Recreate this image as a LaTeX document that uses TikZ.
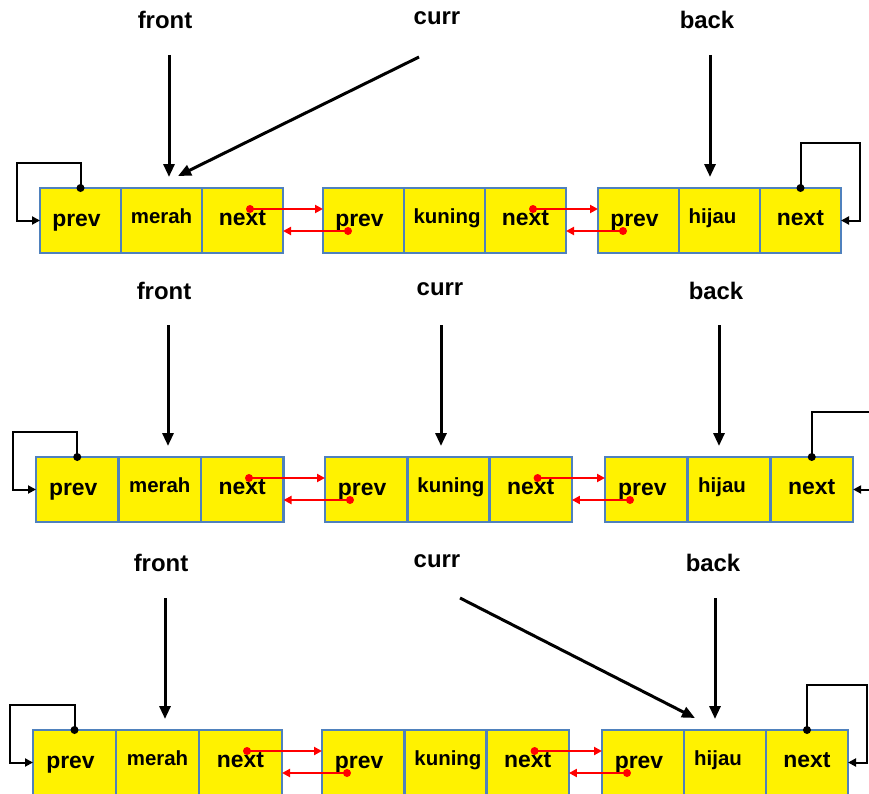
\documentclass[tikz,border=0pt]{standalone}
\usepackage{fontspec}
\setmainfont{Liberation Sans}
\usetikzlibrary{calc,arrows.meta}
\definecolor{cellblue}{RGB}{79,129,189}
\newcommand\valtext[1]{\raisebox{2.5bp}{\fontsize{20.5}{20.5}\selectfont #1}}
\newcommand\prevtext{\raisebox{-0.5bp}{prev}\kern8bp}
\newcommand\nexttext{\raisebox{0.5bp}{next}}
\newcommand\dllnode[6]{%
  \node[cell, minimum width=#4bp, anchor=north west] (#1p) at (#2,#3) {\prevtext};
  \node[cell, minimum width=#4bp, anchor=west] (#1v) at (#1p.east) {\valtext{#5}#6};
  \node[cell, minimum width=#4bp, anchor=west] (#1n) at (#1v.east) {\nexttext};
}
\newcommand\redlinks[2]{%
  \draw[redptr] ($(#1n.west)+(48,-11.5)$) coordinate (#1fw) -- (#1fw -| #2p.west);
  \fill[red] (#1fw) circle (4);
  \draw[redptr] ($(#2p.west)+(25,10.5)$) coordinate (#2bw) -- (#2bw -| #1n.east);
  \fill[red] (#2bw) circle (4);
}
\newcommand\leftloop[1]{%
  \draw[loopline] (#1p.north) -- ++(0,-25) -| ($(#1p.west)+(-23,0)$) -- (#1p.west);
  \fill (#1p.north) circle (4);
}
\newcommand\rightloop[1]{%
  \draw[loopline] (#1n.north) -- ++(0,-45) -| ($(#1n.east)+(19,0)$) -- (#1n.east);
  \fill (#1n.north) circle (4);
}
\begin{document}
\begin{tikzpicture}[x=1bp,y=-1bp,
  cell/.style={draw=cellblue, fill=yellow, line width=2.5bp, minimum height=65bp,
    text height=20bp, text depth=10bp,
    inner sep=0pt, outer sep=0pt, font=\bfseries\fontsize{23}{23}\selectfont},
  lbl/.style={inner sep=0pt, font=\bfseries\fontsize{24}{24}\selectfont},
  ptr/.style={line width=3bp, -{Triangle[length=13bp,width=11bp]}},
  loopline/.style={line width=2bp, -{Triangle[length=8bp,width=8bp]}},
  redptr/.style={red, line width=2.2bp, -{Triangle[length=8bp,width=8bp]}}]
\useasboundingbox (0,0) rectangle (869,794);

% Row 1
\dllnode{a}{40}{188}{81}{merah}{}
\dllnode{b}{323}{188}{81}{kuning}{\kern-5bp}
\dllnode{c}{598}{188}{81}{hijau}{\kern14bp}
\redlinks{a}{b}
\redlinks{b}{c}
\leftloop{a}
\rightloop{c}
\node[lbl] (f1) at (165,20) {front};
\node[lbl] (c1) at (437,18) {curr};
\node[lbl] (k1) at (707,20) {back};
\draw[ptr] ($(f1)+(4,35)$) -- ($(f1)+(4,157)$);
\draw[ptr] ($(c1)+(-18,39)$) -- ($(av.north)+(16.5,-12)$);
\draw[ptr] ($(k1)+(3,35)$) -- ($(k1)+(3,157)$);

% Row 2
\dllnode{d}{36}{457}{82.5}{merah}{}
\dllnode{e}{325}{457}{82.3}{kuning}{\kern-5bp}
\dllnode{f}{605}{457}{82.7}{hijau}{\kern14bp}
\redlinks{d}{e}
\redlinks{e}{f}
\leftloop{d}
\rightloop{f}
\node[lbl] (f2) at (164,291) {front};
\node[lbl] (c2) at (440,289) {curr};
\node[lbl] (k2) at (716,291) {back};
\draw[ptr] ($(f2)+(4,34)$) -- ($(f2)+(4,155)$);
\draw[ptr] ($(c2)+(1,36)$) -- ($(c2)+(1,157)$);
\draw[ptr] ($(k2)+(3,34)$) -- ($(k2)+(3,155)$);

% Row 3
\dllnode{g}{33}{730}{83}{merah}{}
\dllnode{h}{322}{730}{82.3}{kuning}{\kern-5bp}
\dllnode{i}{602}{730}{82}{hijau}{\kern14bp}
\redlinks{g}{h}
\redlinks{h}{i}
\leftloop{g}
\rightloop{i}
\node[lbl] (f3) at (161,563) {front};
\node[lbl] (c3) at (437,561) {curr};
\node[lbl] (k3) at (713,563) {back};
\draw[ptr] ($(f3)+(4,35)$) -- ($(f3)+(4,156)$);
\draw[ptr] ($(c3)+(23,37)$) -- ($(iv.north)+(-30,-12)$);
\draw[ptr] ($(k3)+(2,35)$) -- ($(k3)+(2,156)$);
\end{tikzpicture}
\end{document}
